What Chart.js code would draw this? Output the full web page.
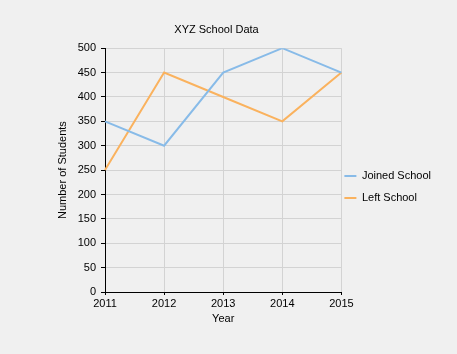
<!DOCTYPE html>
<html>
<head>
<meta charset="utf-8">
<script src="https://cdn.jsdelivr.net/npm/chart.js@4/dist/chart.umd.min.js"></script>
<style>
    html, body { margin: 0; padding: 0; background: #f0f0f0; }
    canvas { display: block; }
</style>
</head>
<body>
<canvas id="schoolChart" width="457" height="354"></canvas>
<script>
// Dữ liệu biểu đồ
const years = ['2011', '2012', '2013', '2014', '2015'];
const joinedSchool = [350, 300, 450, 500, 450];
const leftSchool = [250, 450, 400, 350, 450];
const yTicks = [0, 50, 100, 150, 200, 250, 300, 350, 400, 450, 500];

Chart.defaults.font.family = "'Liberation Sans', Arial, sans-serif";
Chart.defaults.font.size = 11;
Chart.defaults.color = '#000';

// Dịch chú thích và tiêu đề cho giống bố cục WinForms chart
const boxShift = {
    id: 'boxShift',
    afterLayout(chart) {
        const lg = chart.legend;
        if (lg) {
            lg.left -= 8;
            lg.right -= 8;
            lg.top += 22;
            lg.bottom += 22;
        }
        const tb = chart.titleBlock;
        if (tb) {
            tb.left -= 8;
            tb.right -= 8;
        }
    }
};

const ctx = document.getElementById('schoolChart').getContext('2d');

new Chart(ctx, {
    type: 'line',
    data: {
        labels: years,
        datasets: [
            {
                label: 'Joined School',
                data: joinedSchool,
                borderColor: '#88bbe8',
                backgroundColor: '#88bbe8',
                borderWidth: 2,
                pointRadius: 0,
                tension: 0
            },
            {
                label: 'Left School',
                data: leftSchool,
                borderColor: '#fab25e',
                backgroundColor: '#fab25e',
                borderWidth: 2,
                pointRadius: 0,
                tension: 0
            }
        ]
    },
    plugins: [boxShift],
    options: {
        responsive: false,
        animation: false,
        layout: {
            padding: { left: 0, right: 8, top: 0, bottom: 24 }
        },
        plugins: {
            title: {
                display: true,
                text: 'XYZ School Data',
                color: '#000',
                font: { size: 11, weight: 'normal' },
                padding: { top: 23, bottom: 12 }
            },
            legend: {
                position: 'right',
                labels: {
                    usePointStyle: true,
                    pointStyle: 'line',
                    pointStyleWidth: 12,
                    boxHeight: 11,
                    padding: 11,
                    color: '#000'
                }
            },
            tooltip: { enabled: false }
        },
        scales: {
            x: {
                offset: false,
                grid: { color: '#d3d3d3', tickColor: '#000', tickLength: 3 },
                border: { color: '#000', width: 1 },
                ticks: { padding: 2, maxRotation: 0, autoSkip: false },
                title: { display: true, text: 'Year', padding: { top: 2, bottom: 4 } },
                afterFit: function(scale) { scale.height = 38; }
            },
            y: {
                min: 0,
                max: 500,
                afterBuildTicks: function(scale) {
                    scale.ticks = yTicks.map(v => ({ value: v }));
                },
                grid: { color: '#d3d3d3', tickColor: '#000', tickLength: 4 },
                border: { color: '#000', width: 1 },
                ticks: { padding: 5 },
                title: { display: true, text: 'Number of Students', padding: { top: 56, bottom: 2 } },
                afterFit: function(scale) { scale.width = 105; }
            }
        }
    }
});
</script>
</body>
</html>
